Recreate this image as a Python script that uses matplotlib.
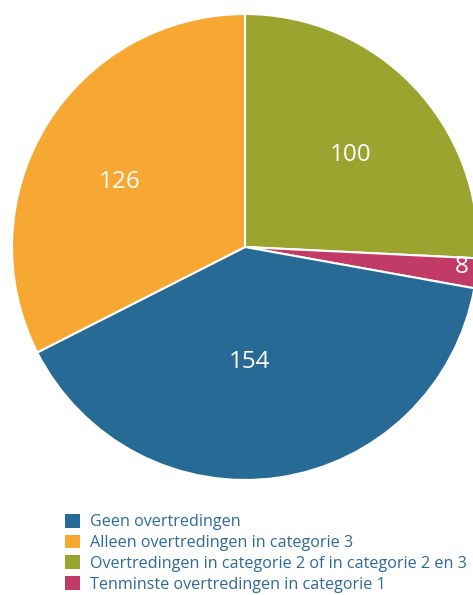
import matplotlib.pyplot as plt
from matplotlib.patches import Patch
import numpy as np

plt.rcParams['font.family'] = ['Open Sans', 'DejaVu Sans']

# data
labels = ['Overtredingen in categorie 2 of in categorie 2 en 3',
          'Tenminste overtredingen in categorie 1',
          'Geen overtredingen',
          'Alleen overtredingen in categorie 3']
values = [100, 8, 154, 126]
colors = ['#9ca430', '#c23b66', '#286a96', '#f6a833']
legend_order = [2, 3, 0, 1]

# where the numbers sit: (fraction of radius, angle in degrees)
label_pos = [(0.60, 41.2), (0.935, -5.3), (0.495, -87.5), (0.605, 152.5)]

fig = plt.figure(figsize=(4.73, 5.95), dpi=100)
ax = fig.add_axes([12/473, (595-480)/595, 466/473, 466/595])

wedges, _ = ax.pie(values, colors=colors, startangle=90, counterclock=False,
                   wedgeprops=dict(edgecolor='white', linewidth=1.5))
ax.set_xlim(-1, 1)
ax.set_ylim(-1, 1)
ax.set_aspect('equal')
ax.axis('off')

for v, (d, a) in zip(values, label_pos):
    a = np.deg2rad(a)
    ax.text(d*np.cos(a), d*np.sin(a), str(v), color='white', fontsize=17.5,
            ha='center', va='center')

handles = [Patch(facecolor=colors[i], edgecolor='none') for i in legend_order]
fig.legend(handles, [labels[i] for i in legend_order], loc='upper left',
           bbox_to_anchor=(65/473, (595-514)/595), frameon=False, fontsize=11.6,
           labelcolor='#2e6a96', handlelength=0.93, handleheight=0.93,
           handletextpad=0.62, labelspacing=0.27, borderpad=0, borderaxespad=0)

fig.savefig('out.png', dpi=100)
